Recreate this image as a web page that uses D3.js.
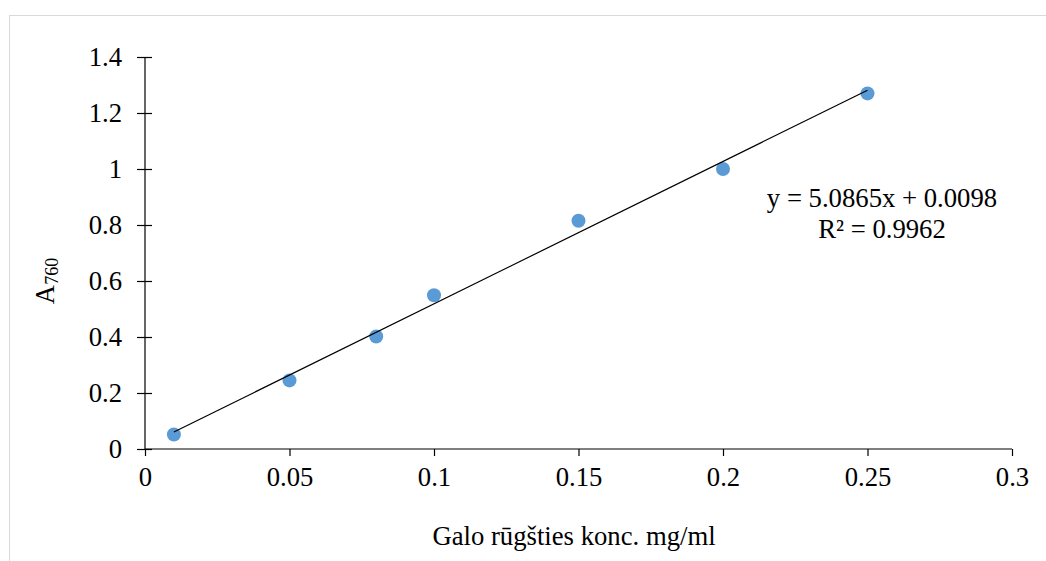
<!DOCTYPE html>
<html>
<head>
<meta charset="utf-8">
<script src="https://cdn.jsdelivr.net/npm/d3@7"></script>
<style>
  body { margin: 0; background: #fff; }
  svg text { font-family: "Liberation Serif", "Times New Roman", serif !important; fill: #000; }
</style>
</head>
<body>
<div id="chart"></div>
<script>
// données
var concentrations = [0.01, 0.05, 0.08, 0.1, 0.15, 0.2, 0.25];
var absorbances = [0.052, 0.245, 0.402, 0.549, 0.815, 1.0, 1.27];
var xTicks = [0, 0.05, 0.1, 0.15, 0.2, 0.25, 0.3];
var yTicks = [0, 0.2, 0.4, 0.6, 0.8, 1, 1.2, 1.4];
var pente = 5.0865, ordonnee = 0.0098;
var equation = ["y = 5.0865x + 0.0098", "R² = 0.9962"];

var width = 1046, height = 561, fontSize = 26.7;

var svg = d3.select("#chart").append("svg")
    .attr("width", width).attr("height", height);

// cadre
svg.append("rect")
    .attr("x", 9.5).attr("y", 15.5)
    .attr("width", width + 20).attr("height", height + 20)
    .attr("fill", "none").attr("stroke", "#d9d9d9");

var x = d3.scaleLinear().domain([0, 0.3]).range([145, 1012]);
var y = d3.scaleLinear().domain([0, 1.4]).range([449, 57]);

// axe Y
var gY = svg.append("g").attr("transform", "translate(" + x(0) + ",0)")
    .call(d3.axisLeft(y).tickValues(yTicks).tickSize(8).tickPadding(15)
        .tickFormat(d => String(+d.toFixed(1))));
gY.selectAll(".tick line").attr("x1", 7);
gY.select(".domain").attr("d", "M0," + y(0) + "V" + y(1.4));

// axe X
var gX = svg.append("g").attr("transform", "translate(0," + y(0) + ")")
    .call(d3.axisBottom(x).tickValues(xTicks).tickSize(7).tickPadding(11)
        .tickFormat(d => String(+d.toFixed(2))));
gX.select(".domain").attr("d", "M" + x(0) + ",0H" + x(0.3));

svg.selectAll(".domain, .tick line").attr("stroke", "#000").attr("stroke-width", 1.2);
svg.selectAll("g").attr("font-family", null).attr("font-size", null);
svg.selectAll(".tick text")
    .style("font-size", fontSize + "px").attr("fill", "#000");

// droite de tendance
var xmin = d3.min(concentrations), xmax = d3.max(concentrations);

// points
svg.selectAll(".pt").data(concentrations).enter().append("circle")
    .attr("class", "pt")
    .attr("cx", d => x(d))
    .attr("cy", (d, i) => y(absorbances[i]))
    .attr("r", 7)
    .attr("fill", "#5b9bd5");

svg.append("line")
    .attr("x1", x(xmin)).attr("y1", y(pente * xmin + ordonnee))
    .attr("x2", x(xmax)).attr("y2", y(pente * xmax + ordonnee))
    .attr("stroke", "#000").attr("stroke-width", 1.2);

// équation
svg.selectAll(".eq").data(equation).enter().append("text")
    .attr("class", "eq")
    .attr("x", 882)
    .attr("y", (d, i) => 207 + i * 31)
    .attr("text-anchor", "middle")
    .style("font-size", fontSize + "px")
    .text(d => d);

// titre axe X
svg.append("text")
    .attr("x", 574).attr("y", 545)
    .attr("text-anchor", "middle")
    .style("font-size", fontSize + "px")
    .text("Galo rūgšties konc. mg/ml");

// titre axe Y
var ty = svg.append("text")
    .attr("transform", "translate(54,281) rotate(-90)")
    .attr("text-anchor", "middle")
    .style("font-size", fontSize + "px");
ty.append("tspan").text("A");
ty.append("tspan").style("font-size", "18px").attr("dy", 4).text("760");
</script>
</body>
</html>
